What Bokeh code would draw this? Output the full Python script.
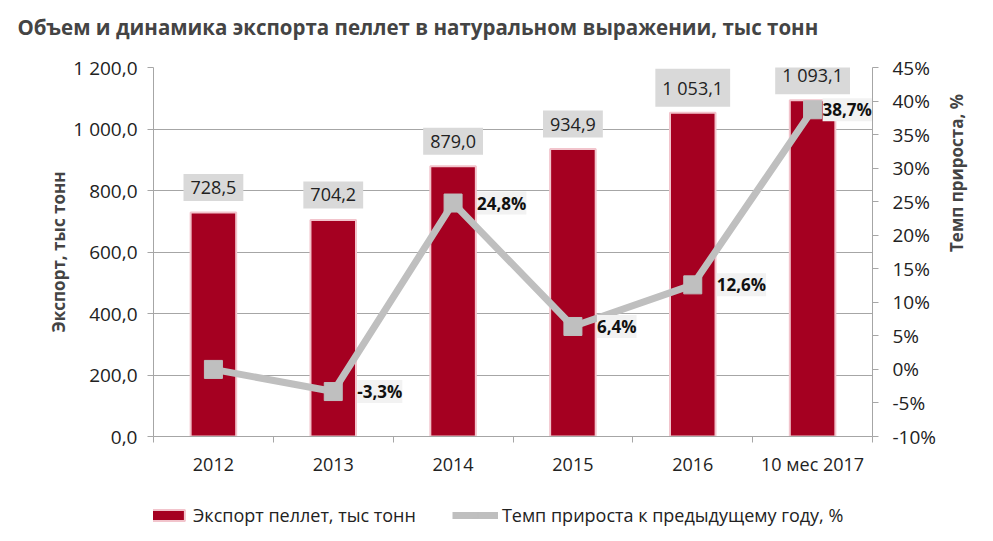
import math

from bokeh.core.properties import value
from bokeh.embed import file_html
from bokeh.layouts import column
from bokeh.models import (ColumnDataSource, FixedTicker, LabelSet, Legend,
                          LegendItem, LinearAxis, Range1d)
from bokeh.plotting import figure
from bokeh.resources import INLINE

categories = ["2012", "2013", "2014", "2015", "2016", "10 мес 2017"]
export_kt = [728.5, 704.2, 879.0, 934.9, 1053.1, 1093.1]
growth_pct = [0.0, -3.3, 24.8, 6.4, 12.6, 38.7]
growth_labels = ["", "-3,3%", "24,8%", "6,4%", "12,6%", "38,7%"]
export_labels = ["728,5", "704,2", "879,0", "934,9", "1 053,1", "1 093,1"]
left_ticks = [0, 200, 400, 600, 800, 1000, 1200]
left_tick_labels = ["0,0", "200,0", "400,0", "600,0", "800,0", "1 000,0", "1 200,0"]
right_ticks = [-10, -5, 0, 5, 10, 15, 20, 25, 30, 35, 40, 45]

FONT = "Open Sans"
RED = "#a50021"
GREY = "#bfbfbf"
BAR_EDGE = "#f2c4cc"
NAN = float("nan")


def bare(fig):
    fig.axis.visible = False
    fig.grid.visible = False
    fig.outline_line_color = None


n = len(categories)
x_pos = [i + 0.5 for i in range(n)]
src = ColumnDataSource(dict(x=x_pos, export=export_kt, growth=growth_pct,
                            elabel=export_labels, glabel=growth_labels))
# the 2012 point has no label; the last one is pulled in so the frame doesn't clip it
lab_src = ColumnDataSource(dict(x=x_pos[1:], growth=growth_pct[1:],
                                glabel=growth_labels[1:],
                                dx=[24] * (n - 2) + [10]))

# title strip
tf = figure(width=977, height=46, x_range=Range1d(0, 1), y_range=Range1d(0, 1),
            output_backend="svg", toolbar_location=None,
            min_border_left=153, min_border_right=105,
            min_border_top=40, min_border_bottom=0)
bare(tf)
tf.title.text = "Объем и динамика экспорта пеллет в натуральном выражении, тыс тонн"
tf.title.text_font = FONT
tf.title.text_font_size = "20.5px"
tf.title.text_font_style = "bold"
tf.title.offset = -136
tf.title.standoff = 0

p = figure(frame_width=719, frame_height=369,
           x_range=Range1d(0, 6), y_range=Range1d(0, 1200),
           output_backend="svg", toolbar_location=None,
           min_border_left=153, min_border_right=105,
           min_border_top=21, min_border_bottom=40)
p.outline_line_color = None
p.background_fill_color = "white"

p.extra_y_ranges = {"pct": Range1d(-10, 45)}

# bars
p.vbar(x="x", top="export", width=0.38, source=src, fill_color=RED,
       line_color=BAR_EDGE, line_width=2)

# growth line
p.line(x="x", y="growth", source=src, y_range_name="pct",
       line_color=GREY, line_width=7)
p.scatter(x="x", y="growth", source=src, y_range_name="pct",
          marker="square", size=18, fill_color=GREY, line_color=GREY)

# bar value labels
p.text(x="x", y="export", text="elabel", source=src,
       text_align="center", text_baseline="middle", y_offset=-25,
       text_font=value(FONT), text_font_size="18px", text_color="#222222",
       background_fill_color="#d9d9d9", padding=7)

# growth labels
p.add_layout(LabelSet(x="x", y="growth", text="glabel", source=lab_src,
                      y_range_name="pct", x_offset="dx",
                      text_align="left", text_baseline="middle",
                      text_font=value(FONT), text_font_size="17px",
                      text_font_style="bold", text_color="#111111",
                      background_fill_color="#f2f2f2"))

# left axis
ya = p.yaxis[0]
ya.ticker = FixedTicker(ticks=left_ticks)
ya.major_label_overrides = dict(zip(left_ticks, left_tick_labels))
ya.axis_label = "Экспорт, тыс тонн"
ya.axis_label_text_font = FONT
ya.axis_label_text_font_style = "bold"
ya.axis_label_text_font_size = "17px"
ya.axis_label_standoff = 0
ya.major_label_text_font = FONT
ya.major_label_text_font_size = "19px"
ya.major_label_text_color = "#222222"
ya.major_label_standoff = 10
ya.axis_line_color = "#a6a6a6"
ya.major_tick_line_color = "#a6a6a6"
ya.major_tick_in = 0
ya.major_tick_out = 6
ya.minor_tick_line_color = None

# right axis
ra = LinearAxis(y_range_name="pct", ticker=FixedTicker(ticks=right_ticks))
ra.major_label_overrides = {t: f"{t}%" for t in right_ticks}
ra.axis_label = "Темп прироста, %"
ra.axis_label_orientation = math.pi / 2
ra.axis_label_text_font = FONT
ra.axis_label_text_font_style = "bold"
ra.axis_label_text_font_size = "17px"
ra.axis_label_standoff = 17
ra.major_label_text_font = FONT
ra.major_label_text_font_size = "19px"
ra.major_label_text_color = "#222222"
ra.major_label_standoff = 14
ra.axis_line_color = "#a6a6a6"
ra.major_tick_line_color = "#a6a6a6"
ra.major_tick_in = 0
ra.major_tick_out = 6
ra.minor_tick_line_color = None
p.add_layout(ra, "right")

# bottom axis: labels at centres, ticks at category boundaries
xa = p.xaxis[0]
xa.ticker = FixedTicker(ticks=x_pos, minor_ticks=list(range(n + 1)))
xa.major_label_overrides = dict(zip(x_pos, categories))
xa.major_label_text_font = FONT
xa.major_label_text_font_size = "18px"
xa.major_label_text_color = "#222222"
xa.major_label_standoff = 9
xa.axis_line_color = "#a6a6a6"
xa.major_tick_line_color = None
xa.minor_tick_line_color = "#a6a6a6"
xa.minor_tick_in = 0
xa.minor_tick_out = 6

p.xgrid.grid_line_color = None
p.ygrid.ticker = FixedTicker(ticks=left_ticks)
p.ygrid.grid_line_color = "#a6a6a6"

# legend strip under the chart; its glyphs sit outside the strip's range
lf = figure(width=977, height=49, x_range=Range1d(0, 1), y_range=Range1d(0, 1),
            output_backend="svg", toolbar_location=None,
            min_border_left=153, min_border_right=105,
            min_border_top=0, min_border_bottom=0)
bare(lf)
lbar = lf.vbar(x=[NAN], top=[NAN], width=0.5, fill_color=RED,
               line_color=BAR_EDGE, line_width=2)
lline = lf.line(x=[NAN], y=[NAN], line_color=GREY, line_width=7)
lmark = lf.scatter(x=[-1], y=[-1], marker="square", size=18,
                   fill_color=GREY, line_color=GREY)

legend = Legend(items=[
    LegendItem(label="Экспорт пеллет, тыс тонн", renderers=[lbar]),
    LegendItem(label="Темп прироста к предыдущему году, %", renderers=[lline, lmark]),
], orientation="horizontal", location=(-10, 0))
legend.label_text_font = FONT
legend.label_text_font_size = "18px"
legend.label_text_color = "#222222"
legend.glyph_width = 46
legend.glyph_height = 14
legend.spacing = 36
legend.label_standoff = 4
legend.padding = 10
legend.margin = 0
legend.border_line_color = None
legend.background_fill_alpha = 0
lf.add_layout(legend)

open("out.html", "w").write(file_html(column(tf, p, lf), INLINE))
